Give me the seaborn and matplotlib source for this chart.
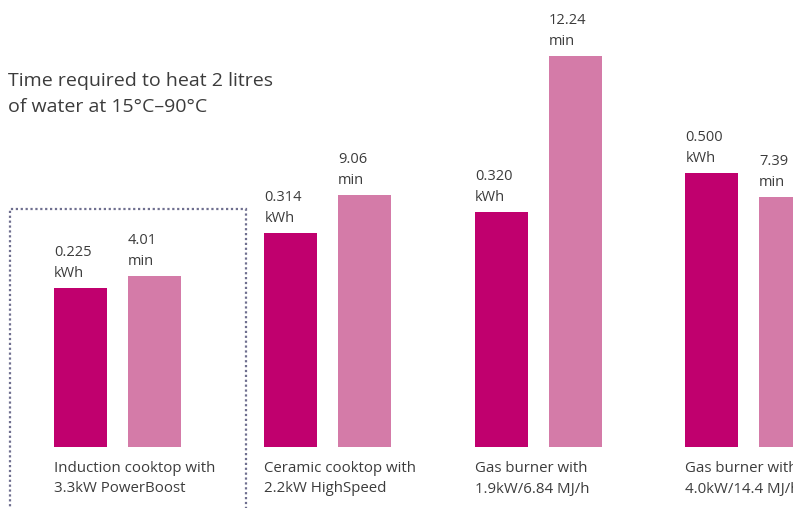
import pandas as pd
import numpy as np
import seaborn as sns
import matplotlib.pyplot as plt
from matplotlib.patches import Rectangle

# data
categories = ["Induction cooktop with\n3.3kW PowerBoost",
              "Ceramic cooktop with\n2.2kW HighSpeed",
              "Gas burner with\n1.9kW/6.84 MJ/h",
              "Gas burner with\n4.0kW/14.4 MJ/h"]
energy_kwh = [0.225, 0.314, 0.320, 0.500]
time_min = [4.01, 9.06, 12.24, 7.39]
# drawn bar heights (the graphic is not to scale)
energy_height = [159, 214, 235, 274]
time_height = [171, 252, 391, 250]

df = pd.DataFrame({
    "device": categories * 2,
    "measure": ["kWh"] * 4 + ["min"] * 4,
    "height": energy_height + time_height,
})

sns.set_theme(style="white")
plt.rcParams['font.family'] = ['Open Sans', 'DejaVu Sans']

fig = plt.figure(figsize=(7.93, 5.08), dpi=100)
ax = fig.add_axes([0, 0, 1, 1])

sns.barplot(data=df, x="device", y="height", hue="measure",
            palette=["#c0006e", "#d47ba8"], saturation=1,
            width=0.70, gap=0.28, linewidth=0, legend=False, ax=ax)

ax.set_xlim(-0.558, 3.211)
ax.set_ylim(-61, 447)
ax.axis("off")

txt = "#3c3c3c"
for cont, vals, unit, fmt in [(ax.containers[0], energy_kwh, "kWh", "{:.3f}"),
                              (ax.containers[1], time_min, "min", "{:.2f}")]:
    for bar, v in zip(cont, vals):
        ax.annotate(fmt.format(v) + "\n" + unit,
                    (bar.get_x(), bar.get_height()),
                    xytext=(0, 5), textcoords="offset points",
                    ha="left", va="bottom", fontsize=10.5, color=txt,
                    linespacing=1.55)

for bar, name in zip(ax.containers[0], categories):
    ax.text(bar.get_x(), -14, name, ha="left", va="top",
            fontsize=10.8, color=txt, linespacing=1.5)

# dotted frame around the induction group
ax.add_patch(Rectangle((-0.510, -120), 1.121, 358, fill=False,
                       edgecolor="#6f6f8f", linewidth=1.6,
                       linestyle=(0, (1, 1.2))))

fig.text(8 / 793, 1 - 72 / 508,
         "Time required to heat 2 litres\nof water at 15°C\u201390°C",
         ha="left", va="top", fontsize=14, color=txt, linespacing=1.55)

plt.savefig("out.png", dpi=100)
